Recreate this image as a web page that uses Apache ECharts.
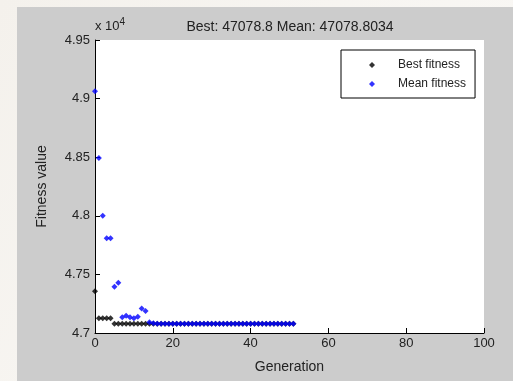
<!DOCTYPE html>
<html>
<head>
<meta charset="utf-8">
<script src="https://cdn.jsdelivr.net/npm/echarts@6/dist/echarts.min.js"></script>
<style>
    html, body { margin: 0; padding: 0; }
    #chart { width: 513px; height: 381px; }
</style>
</head>
<body>
<div id="chart"></div>
<script>
// generation index, 0..51
var generations = [0, 1, 2, 3, 4, 5, 6, 7, 8, 9, 10, 11, 12, 13, 14, 15, 16, 17, 18, 19,
    20, 21, 22, 23, 24, 25, 26, 27, 28, 29, 30, 31, 32, 33, 34, 35, 36, 37, 38, 39,
    40, 41, 42, 43, 44, 45, 46, 47, 48, 49, 50, 51]

var bestFitness = [47356, 47125, 47125, 47125, 47125, 47078.8, 47078.8, 47078.8, 47078.8, 47078.8,
    47078.8, 47078.8, 47078.8, 47078.8, 47078.8, 47078.8, 47078.8, 47078.8, 47078.8, 47078.8,
    47078.8, 47078.8, 47078.8, 47078.8, 47078.8, 47078.8, 47078.8, 47078.8, 47078.8, 47078.8,
    47078.8, 47078.8, 47078.8, 47078.8, 47078.8, 47078.8, 47078.8, 47078.8, 47078.8, 47078.8,
    47078.8, 47078.8, 47078.8, 47078.8, 47078.8, 47078.8, 47078.8, 47078.8, 47078.8, 47078.8,
    47078.8, 47078.8]

var meanFitness = [49062, 48493, 48000, 47808, 47808, 47395, 47429, 47134, 47148, 47134,
    47125, 47139, 47210, 47188, 47091, 47083, 47078.8, 47078.8, 47078.8, 47078.8,
    47078.8, 47078.8, 47078.8, 47078.8, 47078.8, 47078.8, 47078.8, 47078.8, 47078.8, 47078.8,
    47078.8, 47078.8, 47078.8, 47078.8, 47078.8, 47078.8, 47078.8, 47078.8, 47078.8, 47078.8,
    47078.8, 47078.8, 47078.8, 47078.8, 47078.8, 47078.8, 47078.8, 47078.8, 47078.8, 47078.8,
    47078.8, 47078.8034]

var seriesNames = ['Best fitness', 'Mean fitness']
var titleText = 'Best: 47078.8 Mean: 47078.8034'

function pairs(xs, ys) {
    var out = []
    for (var i = 0; i < xs.length; i++) {
        out.push([xs[i], ys[i]])
    }
    return out
}

var font = 'Liberation Sans, Arial, sans-serif'
var chart = echarts.init(document.getElementById('chart'))

chart.setOption({
    animation: false,
    backgroundColor: {
        type: 'linear', x: 0, y: 0, x2: 1, y2: 1,
        colorStops: [{ offset: 0, color: '#f4f1ec' }, { offset: 1, color: '#fbfaf8' }]
    },
    graphic: [{
        type: 'rect',
        z: -10,
        shape: { x: 17, y: 7, width: 496, height: 374 },
        style: { fill: '#cccccc' }
    }, {
        type: 'text',
        left: 95,
        top: 17,
        style: {
            text: 'x 10{s|4}',
            font: '13px ' + font,
            fill: '#222',
            rich: { s: { fontSize: 10, verticalAlign: 'top', padding: [0, 0, 9, 0], fill: '#222' } }
        }
    }],
    title: {
        text: titleText,
        left: 285,
        top: 15,
        textAlign: 'center',
        textStyle: { fontFamily: font, fontSize: 14, fontWeight: 'normal', color: '#222' }
    },
    grid: {
        left: 95,
        right: 29,
        top: 40,
        bottom: 48,
        show: true,
        backgroundColor: '#ffffff',
        borderWidth: 0
    },
    legend: {
        left: 341,
        top: 50,
        orient: 'vertical',
        backgroundColor: '#ffffff',
        borderColor: '#000',
        borderWidth: 1,
        borderRadius: 0,
        padding: [9, 9, 8, 28],
        itemGap: 7,
        itemWidth: 6,
        itemHeight: 6,
        data: [
            { name: seriesNames[0], icon: 'diamond' },
            { name: seriesNames[1], icon: 'diamond' }
        ],
        textStyle: { fontFamily: font, fontSize: 12, color: '#222', padding: [0, 0, 0, 18] }
    },
    xAxis: {
        type: 'value',
        min: 0,
        max: 100,
        interval: 20,
        name: 'Generation',
        nameLocation: 'middle',
        nameGap: 27,
        nameTextStyle: { fontFamily: font, fontSize: 14, color: '#222' },
        axisLine: { lineStyle: { color: '#000', width: 1 } },
        axisTick: { inside: true, length: 5, lineStyle: { color: '#000' } },
        axisLabel: { fontFamily: font, fontSize: 13, color: '#222', margin: 4 },
        splitLine: { show: false }
    },
    yAxis: {
        type: 'value',
        min: 47000,
        max: 49500,
        interval: 500,
        name: 'Fitness value',
        nameLocation: 'middle',
        nameGap: 46,
        nameTextStyle: { fontFamily: font, fontSize: 14, color: '#222' },
        axisLine: { show: true, lineStyle: { color: '#000', width: 1 } },
        axisTick: { show: true, inside: true, length: 5, lineStyle: { color: '#000' } },
        axisLabel: {
            fontFamily: font, fontSize: 13, color: '#222', margin: 5,
            formatter: function(v) { return String(Math.round(v / 10) / 1000) }
        },
        splitLine: { show: false }
    },
    series: [{
        name: seriesNames[0],
        type: 'scatter',
        symbol: 'diamond',
        symbolSize: 6,
        itemStyle: { color: '#000000' },
        data: pairs(generations, bestFitness)
    }, {
        name: seriesNames[1],
        type: 'scatter',
        symbol: 'diamond',
        symbolSize: 6,
        itemStyle: { color: '#0000ff' },
        data: pairs(generations, meanFitness)
    }]
})
</script>
</body>
</html>
